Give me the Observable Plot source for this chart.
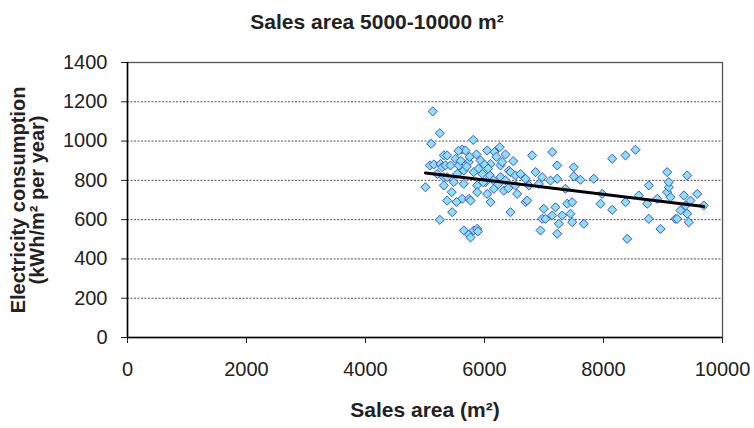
<!DOCTYPE html>
<html>
<head>
<meta charset="utf-8">
<script src="https://cdn.jsdelivr.net/npm/d3@7"></script>
<script src="https://cdn.jsdelivr.net/npm/@observablehq/plot@0.6"></script>
<style>
  html, body { margin: 0; padding: 0; background: #fff; }
  #wrap { width: 754px; height: 428px; overflow: hidden; }
  #title { height: 40px; line-height: 44px; text-align: center; font-family: "Liberation Sans", Arial, sans-serif; font-weight: bold; font-size: 21px; color: #222; }
</style>
</head>
<body>
<div id="wrap">
  <div id="title">Sales area 5000-10000 m²</div>
  <div id="chart"></div>
</div>
<script>
const titleText = "Sales area 5000-10000 m²";
const xLabel = "Sales area (m²)";
const yLabel = "Electricity consumption\n(kWh/m² per year)";
const xTicks = [0, 2000, 4000, 6000, 8000, 10000];
const yTicks = [0, 200, 400, 600, 800, 1000, 1200, 1400];

const salesArea = [
  5008, 5081, 5130, 5148, 5104, 5250, 5260, 5205, 5250, 5289,
  5316, 5316, 5316, 5344, 5373, 5373, 5373, 5429, 5457, 5484,
  5513, 5541, 5568, 5625, 5625, 5652, 5652, 5652, 5680, 5736,
  5736, 5740, 5765, 5765, 5810, 5820, 5820, 5866, 5877, 5877,
  5877, 5890, 5933, 5961, 6017, 6045, 6045, 6089, 6101, 6101,
  6157, 6168, 6257, 6269, 6269, 6297, 6324, 6353, 6409, 6437,
  6437, 6482, 6521, 6521, 6549, 6605, 6689, 6689, 6717, 6745,
  6801, 6857, 6913, 6941, 6969, 6969, 6997, 7025, 7109, 7138,
  7138, 7193, 7222, 7222, 7222, 7249, 7306, 7361, 7390, 7445,
  7473, 7474, 7501, 7501, 7613, 7669, 7837, 7950, 7978, 8146,
  8146, 8370, 8370, 8398, 8538, 8594, 8734, 8762, 8762, 8902,
  8958, 9070, 9070, 9098, 9098, 9126, 9210, 9238, 9294, 9350,
  9378, 9406, 9406, 9434, 9462, 9575, 9686,
  5560, 5600, 5700, 5750, 5900, 5980, 6000, 6150, 6200, 6350,
  6400, 5450, 5530, 6060, 6230
];
const consumption = [
  765, 876, 1151, 881, 986, 1040, 884, 833, 599, 867,
  927, 816, 774, 876, 927, 816, 697, 876, 638, 791,
  910, 833, 876, 706, 957, 850, 782, 545, 952, 893,
  524, 706, 697, 509, 1006, 842, 545, 932, 774, 740,
  553, 540, 901, 833, 791, 952, 731, 825, 884, 689,
  757, 944, 969, 876, 816, 893, 748, 932, 850, 842,
  638, 898, 774, 825, 731, 833, 808, 689, 697, 774,
  927, 842, 782, 545, 816, 604, 655, 604, 799, 944,
  621, 663, 808, 876, 528, 579, 621, 757, 681, 630,
  689, 587, 867, 820, 803, 579, 808, 681, 731, 910,
  650, 927, 689, 502, 956, 723, 681, 774, 604, 706,
  553, 842, 740, 765, 791, 714, 604, 604, 647, 723,
  672, 825, 630, 587, 697, 731, 672,
  950, 900, 870, 920, 860, 790, 880, 800, 920, 800,
  760, 740, 690, 860, 780
];

const data = salesArea.map((x, i) => ({x, y: consumption[i]}));

const chart = Plot.plot({
  width: 754,
  height: 388,
  marginTop: 22,
  marginBottom: 91,
  marginLeft: 127,
  marginRight: 32,
  style: {fontFamily: "'Liberation Sans', Arial, sans-serif", fontSize: "20px", color: "#222", background: "#fff"},
  x: {domain: [0, 10000], ticks: xTicks},
  y: {domain: [0, 1400], ticks: yTicks},
  marks: [
    Plot.gridY(yTicks.filter(d => d > 0 && d < 1400), {stroke: "#333", strokeOpacity: 0.85, strokeDasharray: "2,1.5"}),
    Plot.frame({stroke: "#555", strokeWidth: 1.3}),
    Plot.axisY({ticks: yTicks, tickSize: 6, tickPadding: 14, label: null, fontSize: 20, tickFormat: d => String(d)}),
    Plot.axisX({ticks: xTicks, tickSize: 6, tickPadding: 18, label: null, fontSize: 20, tickFormat: d => String(d)}),
    Plot.ruleX([0], {stroke: "#000", strokeWidth: 1.5}),
    Plot.ruleY([0], {stroke: "#000", strokeWidth: 1.5}),
    Plot.dot(data, {x: "x", y: "y", symbol: "diamond2", r: 4.1, fill: "#86e3f3", stroke: "#4a4ad0", strokeWidth: 1}),
    Plot.linearRegressionY(data, {x: "x", y: "y", ci: 0, stroke: "#000", strokeWidth: 3}),
    Plot.text([xLabel], {frameAnchor: "bottom", lineAnchor: "middle", textAnchor: "middle", dy: 73, fontWeight: "bold", fontSize: 21, fill: "#222"}),
    Plot.text([yLabel], {frameAnchor: "left", lineAnchor: "middle", textAnchor: "middle", dx: -99, rotate: -90, fontWeight: "bold", fontSize: 20, lineHeight: 0.95, fill: "#222"})
  ]
});
document.getElementById("chart").appendChild(chart);
</script>
</body>
</html>
